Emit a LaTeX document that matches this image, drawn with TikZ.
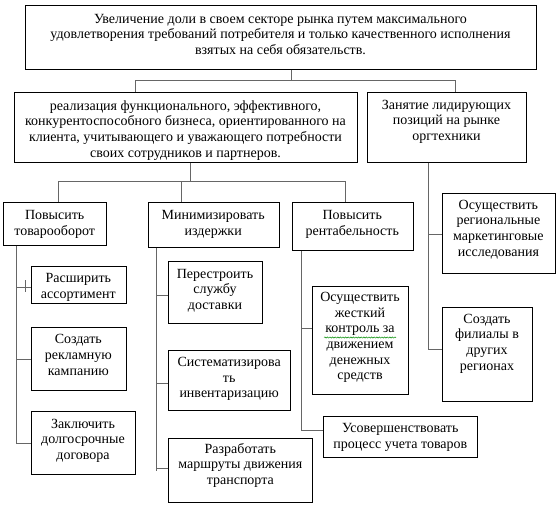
\documentclass[tikz,border=0pt]{standalone}
\usepackage{fontspec}
\setmainfont{Liberation Serif}
\usetikzlibrary{decorations.pathmorphing}
\newcommand\bxfont{\fontsize{14}{15.7}\selectfont}
\begin{document}
\spaceskip=6.3pt plus 1.4pt minus 0.7pt\relax
\begin{tikzpicture}[x=1pt,y=-1pt,
 frame/.style={draw=black, line width=0.8pt, inner sep=0pt, anchor=north west},
 txt/.style={align=center, inner sep=0pt, anchor=north, font=\bxfont},
 conn/.style={draw=black!60, line width=0.8pt}]
\useasboundingbox[fill=white] (0,0) rectangle (559,506);

% level 1
\node[frame, minimum width=511pt, minimum height=64pt] (T) at (25,5) {};
\node[txt] (Tt) at (280.5,12) {\strut Увеличение доли в своем секторе рынка путем максимального\\удовлетворения требований потребителя и только качественного исполнения\\взятых на себя обязательств.};

% level 2
\node[frame, minimum width=343pt, minimum height=70pt] (R) at (14,91.7) {};
\node[txt] (Rt) at (185.5,99) {\strut реализация функционального, эффективного,\\конкурентоспособного бизнеса, ориентированного на\\клиента, учитывающего и уважающего потребности\\своих сотрудников и партнеров.};
\node[frame, minimum width=159pt, minimum height=70pt] (Z) at (367,91.7) {};
\node[txt] (Zt) at (446.5,98) {\strut Занятие лидирующих\\позиций на рынке\\оргтехники};

% level 3
\node[frame, minimum width=102.7pt, minimum height=43pt] (P1) at (3.3,202) {};
\node[txt] (P1t) at (54.7,208.7) {\strut Повысить\\товарооборот};
\node[frame, minimum width=131pt, minimum height=45pt] (M) at (147.7,202) {};
\node[txt] (Mt) at (213.2,208.7) {\strut Минимизировать\\издержки};
\node[frame, minimum width=121.3pt, minimum height=48pt] (P2) at (291.7,202) {};
\node[txt] (P2t) at (352.3,208.7) {\strut Повысить\\рентабельность};

% column 1
\node[frame, minimum width=94.7pt, minimum height=37.6pt] (A1) at (31,265.7) {};
\node[txt] (A1t) at (78.3,271.3) {\strut Расширить\\ассортимент};
\node[frame, minimum width=94.7pt, minimum height=62.7pt] (A2) at (31,327.3) {};
\node[txt] (A2t) at (78.3,332.7) {\strut Создать\\рекламную\\кампанию};
\node[frame, minimum width=104pt, minimum height=63pt] (A3) at (31,411) {};
\node[txt] (A3t) at (83,417) {\strut Заключить\\долгосрочные\\договора};

% column 2
\node[frame, minimum width=93.4pt, minimum height=62pt] (B1) at (168.3,261) {};
\node[txt] (B1t) at (215,267) {\strut Перестроить\\службу\\доставки};
\node[frame, minimum width=121.7pt, minimum height=60pt] (B2) at (168.3,350) {};
\node[txt] (B2t) at (229.2,355.3) {\strut Систематизирова\\ть\\инвентаризацию};
\node[frame, minimum width=144pt, minimum height=63.4pt] (B3) at (168.3,438.3) {};
\node[txt] (B3t) at (240.3,442) {\strut Разработать\\маршруты движения\\транспорта};

% column 3
\node[frame, minimum width=95.4pt, minimum height=108pt] (C1) at (312.3,286) {};
\node[txt] (C1t) at (360,290.3) {\strut Осуществить\\жесткий\\контроль за\\движением\\денежных\\средств};
\node[frame, minimum width=154pt, minimum height=41.3pt] (C2) at (323.3,416) {};
\node[txt] (C2t) at (400.3,421.3) {\strut Усовершенствовать\\процесс учета товаров};

% column 4
\node[frame, minimum width=113.3pt, minimum height=80.3pt] (D1) at (441.7,192.7) {};
\node[txt] (D1t) at (498.4,198) {\strut Осуществить\\региональные\\маркетинговые\\исследования};
\node[frame, minimum width=90.6pt, minimum height=93.7pt] (D2) at (441.7,307.3) {};
\node[txt] (D2t) at (487,312) {\strut Создать\\филиалы в\\других\\регионах};

% grammar-check underline
\coordinate (wa) at (324,337.5);
\coordinate (wb) at (396,337.5);
\draw[green!55!black, line width=0.5pt, decorate, decoration={snake, amplitude=0.6pt, segment length=2.6pt}] (wa) -- (wb);

% junction coordinates
\coordinate (jT) at (291,80);
\coordinate (jRl) at (135.5,80);
\coordinate (jRr) at (455,80);
\coordinate (jR) at (190.7,181.7);
\coordinate (jP1) at (58.7,181.7);
\coordinate (jM) at (181.7,181.7);
\coordinate (jP2) at (345.7,181.7);
\coordinate (cP1) at (16.7,300);
\coordinate (cM) at (156.7,471);
\coordinate (cP2) at (301,300);
\coordinate (cZ) at (428.3,300);
\coordinate (tk1) at (25,280);
\coordinate (tk2) at (25,292);

% connectors
\draw[conn] (T.south -| jT) -- (jT);
\draw[conn] (R.north -| jRl) -- (jRl) -- (jRr) -- (Z.north -| jRr);
\draw[conn] (R.south -| jR) -- (jR);
\draw[conn] (P1.north -| jP1) -- (jP1) -- (jP2) -- (P2.north -| jP2);
\draw[conn] (jM) -- (M.north -| jM);

\draw[conn] (P1.south -| cP1) |- (A3.west);
\draw[conn] ([yshift=-2pt]A1.west) -- ([yshift=-2pt]A1.west -| cP1);
\draw[conn] (A2.west) -- (A2.west -| cP1);
\draw[conn] (tk1) -- (tk2);

\draw[conn] (M.south -| cM) -- (cM);
\draw[conn] ([yshift=-3pt]B1.west) -- ([yshift=-3pt]B1.west -| cM);
\draw[conn] ([yshift=-3pt]B2.west) -- ([yshift=-3pt]B2.west -| cM);
\draw[conn] ([yshift=1.7pt]B3.west) -- ([yshift=1.7pt]B3.west -| cM);

\draw[conn] (P2.south -| cP2) |- ([yshift=6.6pt]C2.west);
\draw[conn] ([yshift=12.3pt]C1.west) -- ([yshift=12.3pt]C1.west -| cP2);

\draw[conn] (Z.south -| cZ) |- ([yshift=5pt]D2.west);
\draw[conn] ([yshift=-1.3pt]D1.west) -- ([yshift=-1.3pt]D1.west -| cZ);
\end{tikzpicture}
\end{document}
